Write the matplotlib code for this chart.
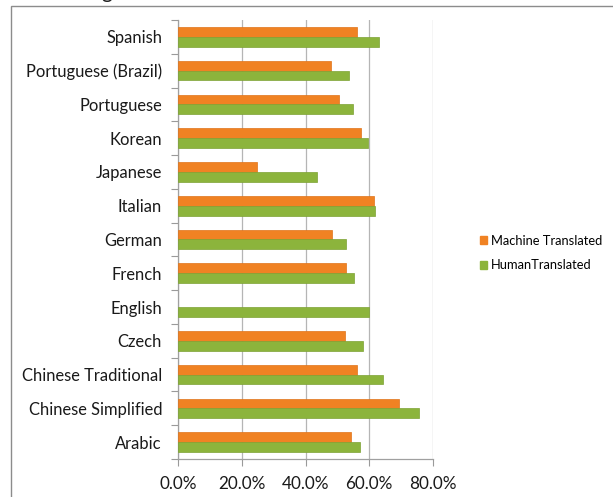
import matplotlib
matplotlib.use("Agg")
import matplotlib.pyplot as plt
from matplotlib.patches import Patch, Rectangle
import numpy as np

plt.rcParams['font.family'] = ['Lato', 'DejaVu Sans']

languages = ["Arabic", "Chinese Simplified", "Chinese Traditional", "Czech", "English",
             "French", "German", "Italian", "Japanese", "Korean", "Portuguese",
             "Portuguese (Brazil)", "Spanish"]
machine = [54.2, 69.2, 56.0, 52.5, np.nan, 52.8, 48.3, 61.5, 24.8, 57.5, 50.5, 48.0, 56.2]
human = [57.1, 75.5, 64.3, 58.0, 60.0, 55.3, 52.7, 61.8, 43.6, 59.6, 55.0, 53.8, 63.1]
series_names = ["Machine Translated", "HumanTranslated"]
xticks = [0, 20, 40, 60, 80]

W, H = 613, 497
fig = plt.figure(figsize=(W / 100, H / 100), dpi=100)
fig.patch.set_facecolor("white")

# outer frame
fig.patches.append(Rectangle((11 / W, -0.05), 1.2, 1 - 6 / H + 0.05, transform=fig.transFigure,
                             fill=False, edgecolor="#8c8c8c", linewidth=1.0))
fig.text(107 / W, 1 + 1.5 / H, "g", fontsize=15, ha="center", va="baseline", color="#222222")

ax = fig.add_axes([178 / W, 1 - 459 / H, (433 - 178) / W, (459 - 20) / H])

y = np.arange(len(languages))
bh = 0.29
orange = "#F08223"
green = "#8CB43C"
ax.barh(y + bh / 2, machine, height=bh, color=orange, edgecolor="#E0731A", linewidth=0.5, zorder=3)
ax.barh(y - bh / 2, human, height=bh, color=green, edgecolor="#7DA233", linewidth=0.5, zorder=3)

ax.set_xlim(0, 80)
ax.set_ylim(-0.5, len(languages) - 0.5)
ax.set_xticks(xticks)
ax.set_xticklabels([f"{v:.1f}%" for v in xticks], fontsize=12.3, color="#1a1a1a")
ax.set_yticks(y)
ax.set_yticklabels(languages, fontsize=11.9, color="#1a1a1a")
ax.set_yticks(np.arange(-0.5, len(languages), 1), minor=True)
ax.tick_params(axis="y", which="major", length=0, pad=11.5)
ax.tick_params(axis="y", which="minor", length=5, color="#9a9a9a", width=0.8)
ax.tick_params(axis="x", which="major", length=5, color="#9a9a9a", width=0.8, pad=7)

ax.grid(axis="x", color="#b5b5b5", linewidth=0.9, zorder=0)
for s in ["top", "right"]:
    ax.spines[s].set_visible(False)
for s in ["left", "bottom"]:
    ax.spines[s].set_color("#a0a0a0")
    ax.spines[s].set_linewidth(0.9)

handles = [Patch(facecolor=orange, edgecolor=orange), Patch(facecolor=green, edgecolor=green)]
fig.legend(handles, series_names, loc="center left", bbox_to_anchor=(468 / W, 1 - 253 / H),
           frameon=False, fontsize=9.3, handlelength=0.6, handleheight=0.6,
           handletextpad=0.3, labelspacing=1.0)

fig.savefig("out.png", dpi=100, facecolor="white")
